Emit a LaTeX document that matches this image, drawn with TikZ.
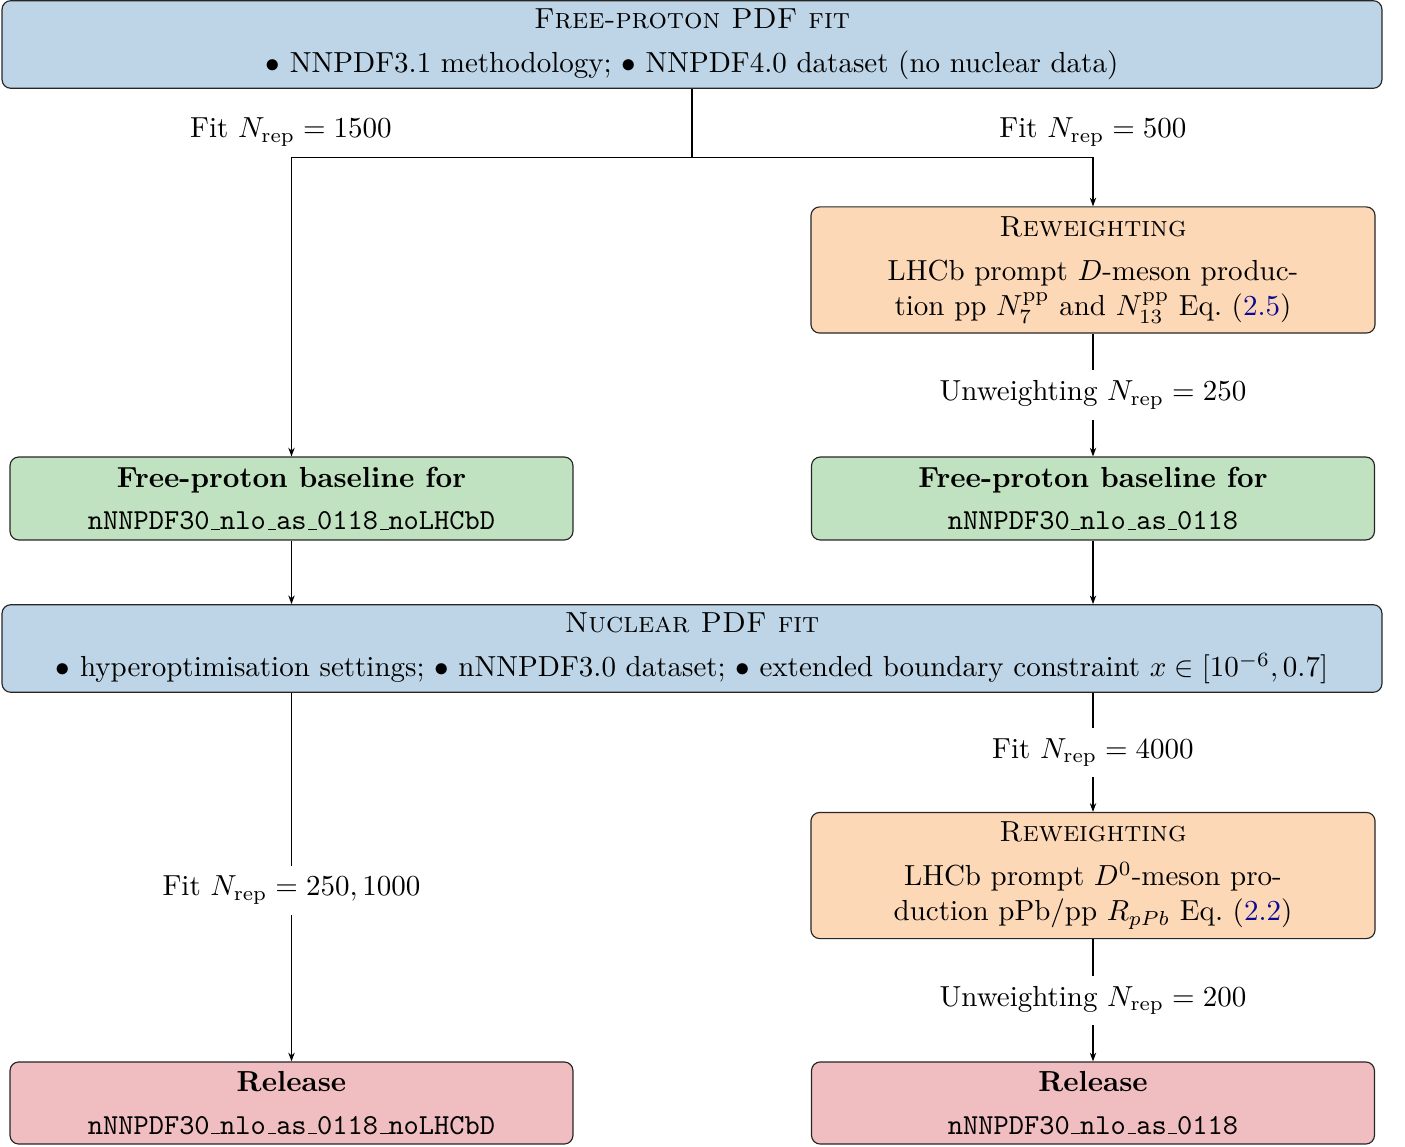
\documentclass[tikz,border=0pt]{standalone}
\usetikzlibrary{arrows.meta}
\definecolor{cblue}{RGB}{189,213,231}
\definecolor{corange}{RGB}{253,216,182}
\definecolor{cgreen}{RGB}{192,226,192}
\definecolor{cred}{RGB}{240,189,192}
\definecolor{linkblue}{RGB}{10,10,150}
\newcommand\usc{\leavevmode\kern.06em\vbox{\hrule width.3em}}
\begin{document}
\begin{tikzpicture}[x=0.3448pt,y=-0.3448pt,
  box/.style={draw=black!85, rounded corners=3pt, align=center, inner sep=0pt, line width=0.4pt},
  widebox/.style={box, fill=cblue, minimum width=475.8pt, minimum height=30.2pt},
  rewbox/.style={box, fill=corange, minimum width=194.5pt, minimum height=43.5pt},
  basebox/.style={box, fill=cgreen, minimum width=194.1pt, minimum height=28.6pt},
  relbox/.style={box, fill=cred, minimum width=194.1pt, minimum height=28.3pt},
  arr/.style={-{Stealth[length=3pt,width=2.2pt]}, line width=0.4pt},
  lab/.style={fill=white, inner sep=3.6pt},
  plainlab/.style={inner sep=0pt}]
\useasboundingbox (0,0) rectangle (1405,1147);

\node[widebox] (top) at (692,44.5)
  {\textsc{Free-proton PDF fit}\\[3.2pt]
   $\bullet$ NNPDF3.1 methodology; $\bullet$ NNPDF4.0 dataset (no nuclear data)};

\node[rewbox] (rw1) at (1093,270)
  {\textsc{Reweighting}\\[3.2pt]
   LHCb prompt $D$-meson produc-\\
   tion pp $N_7^{\mathrm{pp}}$ and $N_{13}^{\mathrm{pp}}$ Eq.~(\textcolor{linkblue}{2.5})};

\node[basebox] (gl) at (291.5,498.5)
  {\textbf{Free-proton baseline for}\\[2.8pt]
   \texttt{nNNPDF30\usc nlo\usc as\usc 0118\usc noLHCbD}};
\node[basebox] (gr) at (1093,498.5)
  {\textbf{Free-proton baseline for}\\[2.8pt]
   \texttt{nNNPDF30\usc nlo\usc as\usc 0118}};

\node[widebox] (nuc) at (692,648.5)
  {\textsc{Nuclear PDF fit}\\[3.2pt]
   $\bullet$ hyperoptimisation settings; $\bullet$ nNNPDF3.0 dataset; $\bullet$ extended boundary constraint $x\in[10^{-6},0.7]$};

\node[rewbox] (rw2) at (1093,875.5)
  {\textsc{Reweighting}\\[3.2pt]
   LHCb prompt $D^0$-meson pro-\\
   duction pPb/pp $R_{pPb}$ Eq.~(\textcolor{linkblue}{2.2})};

\node[relbox] (rl) at (291.5,1103)
  {\textbf{Release}\\[2.8pt]
   \texttt{nNNPDF30\usc nlo\usc as\usc 0118\usc noLHCbD}};
\node[relbox] (rr) at (1093,1103)
  {\textbf{Release}\\[2.8pt]
   \texttt{nNNPDF30\usc nlo\usc as\usc 0118}};

% split from top box
\draw (top.south) -- ++(0,69) coordinate (split);
\draw[arr] (split) -| (gl.north);
\draw[arr] (split) -| (rw1.north);
\node[plainlab] (lfit1) at (291,132) {Fit $N_{\mathrm{rep}}=1500$};
\node[plainlab] (lfit2) at (1093,132) {Fit $N_{\mathrm{rep}}=500$};

\draw[arr] (rw1.south) -- node[lab] {Unweighting $N_{\mathrm{rep}}=250$} (gr.north);

\draw[arr] (gl.south) -- (gl.south |- nuc.north);
\draw[arr] (gr.south) -- (gr.south |- nuc.north);

\draw[arr] (nuc.south -| rl.north) -- node[lab, pos=0.535] {Fit $N_{\mathrm{rep}}=250,1000$} (rl.north);
\draw[arr] (nuc.south -| rw2.north) -- node[lab] {Fit $N_{\mathrm{rep}}=4000$} (rw2.north);
\draw[arr] (rw2.south) -- node[lab] {Unweighting $N_{\mathrm{rep}}=200$} (rr.north);
\end{tikzpicture}
\end{document}
